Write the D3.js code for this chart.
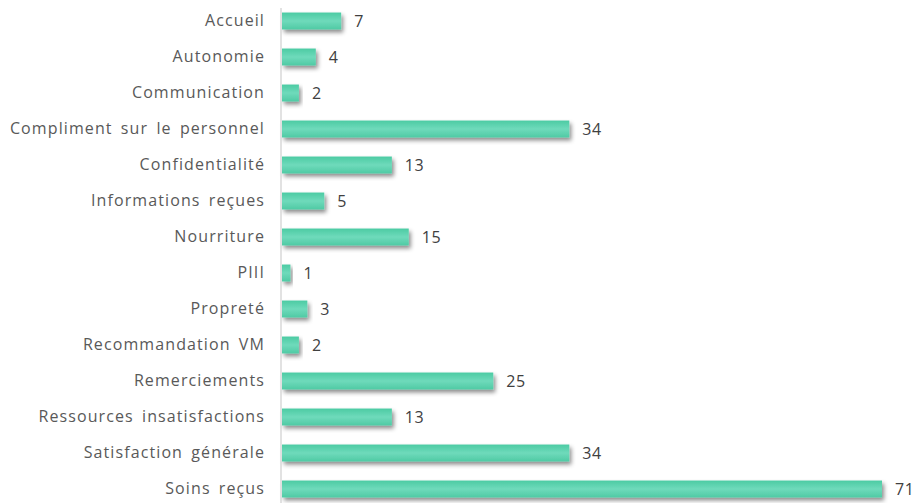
<!DOCTYPE html>
<html>
<head>
<meta charset="utf-8">
<script src="https://cdn.jsdelivr.net/npm/d3@7"></script>
<style>
  body { margin: 0; background: #fff; }
  text { font-family: "Open Sans", Lato, sans-serif; }
</style>
</head>
<body>
<svg id="chart" width="921" height="503"></svg>
<script>
var categories = ["Accueil", "Autonomie", "Communication", "Compliment sur le personnel",
    "Confidentialité", "Informations reçues", "Nourriture", "PIII", "Propreté",
    "Recommandation VM", "Remerciements", "Ressources insatisfactions",
    "Satisfaction générale", "Soins reçus"];
var counts = [7, 4, 2, 34, 13, 5, 15, 1, 3, 2, 25, 13, 34, 71];

var width = 921, height = 503;
var margin = {top: 3, right: 39, bottom: -4, left: 282};

var svg = d3.select("#chart");

var x = d3.scaleLinear()
    .domain([0, 71])
    .range([margin.left, width - margin.right]);

var y = d3.scaleBand()
    .domain(categories)
    .range([margin.top, height - margin.bottom])
    .paddingInner(0.53)
    .paddingOuter(0.265);

var defs = svg.append("defs");
var grad = defs.append("linearGradient")
    .attr("id", "bar_grad")
    .attr("x1", 0).attr("y1", 0).attr("x2", 0).attr("y2", 1);
grad.append("stop").attr("offset", "0%").attr("stop-color", "#4ccba3");
grad.append("stop").attr("offset", "50%").attr("stop-color", "#6fdabb");
grad.append("stop").attr("offset", "100%").attr("stop-color", "#4fcaa4");

var shadow = defs.append("filter")
    .attr("id", "bar_shadow")
    .attr("x", "-10%").attr("y", "-30%")
    .attr("width", "130%").attr("height", "190%");
shadow.append("feDropShadow")
    .attr("dx", 2).attr("dy", 3)
    .attr("stdDeviation", 2)
    .attr("flood-color", "#000")
    .attr("flood-opacity", 0.45);

// bars
svg.append("g")
    .selectAll("rect")
    .data(counts)
    .enter().append("rect")
        .attr("x", x(0))
        .attr("y", function(d, i) { return y(categories[i]); })
        .attr("width", function(d) { return x(d) - x(0); })
        .attr("height", y.bandwidth())
        .attr("fill", "url(#bar_grad)")
        .attr("filter", "url(#bar_shadow)");

// value labels
svg.append("g")
    .selectAll("text")
    .data(counts)
    .enter().append("text")
        .attr("x", function(d) { return x(d) + 13; })
        .attr("y", function(d, i) { return y(categories[i]) + y.bandwidth() / 2; })
        .attr("dy", "0.35em")
        .attr("fill", "#404040")
        .attr("font-size", 16)
        .attr("letter-spacing", 0.5)
        .text(function(d) { return d; });

// category axis
var axis = svg.append("g")
    .attr("transform", "translate(" + (x(0) - 1) + ",0)")
    .call(d3.axisLeft(y).tickSize(0).tickPadding(16));
axis.select(".domain")
    .attr("stroke", "#d9d9d9")
    .attr("stroke-width", 1.5)
    .attr("d", "M0,8V" + height);
axis.selectAll("text")
    .attr("fill", "#595959")
    .attr("font-size", 16)
    .attr("letter-spacing", 1.1)
    .attr("word-spacing", 3)
    .style("font-family", "'Open Sans', Lato, sans-serif");
</script>
</body>
</html>
